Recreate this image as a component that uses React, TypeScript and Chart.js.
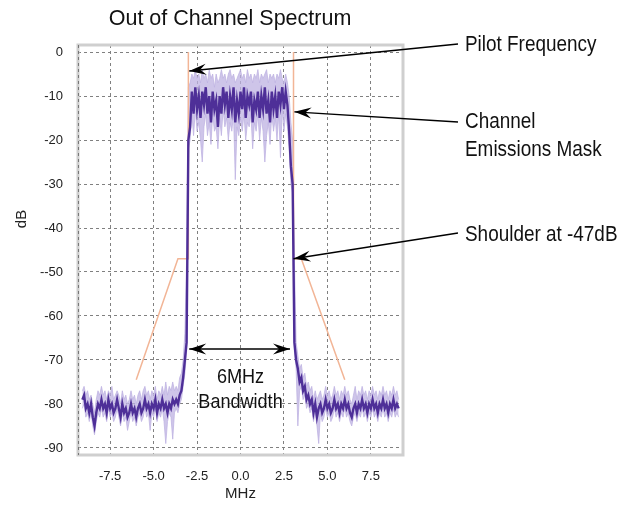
import React, { useEffect, useRef } from "react";
import { Chart, registerables } from "chart.js";

Chart.register(...registerables);

// Frequency sampling grid (MHz): start and step
const FREQ_START = -9.1;
const FREQ_STEP = 0.1;

// Dark (core) spectrum trace, dB
const traceMain = [
  -79, -78, -81, -80, -82, -80, -83, -85, -82, -80,
  -81, -79, -81, -80, -82, -79, -81, -80, -82, -81,
  -79, -81, -83, -80, -82, -81, -83, -82, -80, -82,
  -81, -83, -81, -80, -82, -81, -79, -81, -80, -82,
  -80, -81, -79, -82, -80, -81, -79, -81, -80, -82,
  -80, -81, -79, -80, -79, -80, -78, -77, -74, -70,
  -66,
  -20, -17, -9, -14, -8, -13, -10, -15, -9, -12,
  -8, -14, -10, -16, -9, -13, -11, -17, -10, -14,
  -8, -12, -9, -15, -10, -13, -8, -16, -11, -14,
  -9, -13, -8, -15, -10, -12, -9, -16, -11, -13,
  -9, -15, -10, -13, -8, -14, -11, -16, -9, -13,
  -10, -15, -9, -12, -8, -13, -9, -12, -18, -26,
  -30, -66, -70, -72, -75, -74, -77, -76, -79, -78,
  -80, -79, -82, -80, -83, -81, -80, -82, -81, -79,
  -81, -80, -82, -81, -79, -81, -80, -82, -80, -81,
  -79, -81, -80, -82, -83, -81, -80, -82, -80, -81,
  -79, -81, -80, -82, -80, -81, -79, -81, -80, -82,
  -80, -81, -79, -81, -80, -82, -80, -81, -79, -81,
  -80, -81,
];

// Light envelope: upper edge of the spectrum spread, dB
const traceHi = [
  -77, -76, -78, -77, -79, -78, -80, -82, -79, -77,
  -78, -76, -78, -77, -79, -77, -78, -76, -79, -78,
  -77, -78, -80, -77, -79, -78, -80, -79, -77, -79,
  -78, -80, -78, -77, -79, -77, -76, -78, -77, -79,
  -77, -78, -76, -79, -77, -78, -76, -78, -75, -78,
  -76, -77, -75, -77, -76, -77, -74, -73, -70, -64,
  -47,
  -8, -7, -5, -6, -4, -6, -5, -7, -4, -6,
  -5, -7, -4, -6, -5, -8, -5, -7, -6, -4,
  -6, -5, -7, -5, -4, -6, -5, -7, -6, -5,
  -4, -6, -5, -7, -4, -6, -5, -7, -5, -6,
  -4, -7, -5, -6, -5, -4, -7, -5, -6, -5,
  -7, -5, -6, -4, -6, -7, -5, -7, -10, -16,
  -20, -47, -66, -69, -72, -71, -74, -73, -76, -75,
  -77, -76, -79, -77, -79, -78, -77, -79, -78, -76,
  -78, -77, -79, -78, -76, -78, -77, -79, -77, -78,
  -76, -78, -77, -79, -80, -78, -76, -79, -77, -78,
  -76, -78, -77, -79, -77, -78, -76, -78, -77, -79,
  -77, -78, -76, -78, -77, -79, -77, -78, -76, -78,
  -77, -79,
];

// Light envelope: lower edge of the spectrum spread, dB
const traceLo = [
  -81, -80, -83, -82, -84, -82, -85, -87, -84, -82,
  -83, -81, -83, -82, -84, -81, -83, -82, -84, -83,
  -81, -83, -85, -82, -84, -83, -86, -84, -82, -84,
  -83, -85, -83, -82, -84, -83, -81, -83, -82, -86,
  -82, -83, -81, -84, -82, -83, -81, -84, -89, -84,
  -82, -83, -88, -82, -81, -82, -80, -79, -76, -73,
  -68,
  -22, -20, -14, -19, -13, -18, -16, -20, -25, -17,
  -14, -19, -16, -21, -14, -18, -17, -22, -15, -19,
  -13, -17, -15, -20, -16, -18, -14, -29, -17, -19,
  -15, -18, -14, -20, -16, -17, -14, -22, -16, -18,
  -14, -20, -15, -18, -25, -19, -16, -21, -14, -18,
  -15, -20, -14, -24, -13, -18, -14, -17, -22, -30,
  -32, -68, -72, -85, -77, -76, -79, -78, -81, -80,
  -82, -81, -84, -82, -85, -89, -82, -84, -83, -81,
  -83, -82, -84, -83, -81, -83, -82, -84, -82, -83,
  -81, -83, -82, -84, -85, -83, -82, -84, -82, -83,
  -81, -83, -82, -84, -82, -83, -81, -83, -82, -84,
  -82, -83, -81, -83, -82, -84, -82, -83, -81, -83,
  -82, -83,
];

// Channel emissions mask (MHz, dB)
const maskLeftX = [-6.0, -3.6, -3.0, -3.0];
const maskLeftY = [-74.5, -47, -47, 0];
const maskRightX = [3.05, 3.05, 3.5, 6.0];
const maskRightY = [0, -47, -47, -74.5];

// Axis ticks
const xTicks = [-7.5, -5.0, -2.5, 0.0, 2.5, 5.0, 7.5];
const yTicks = [0, -10, -20, -30, -40, -50, -60, -70, -80, -90];
const yTickLabels = ["0", "-10", "-20", "-30", "-40", "--50", "-60", "-70", "-80", "-90"];

const TITLE = "Out of Channel Spectrum";
const X_TITLE = "MHz";
const Y_TITLE = "dB";

const DARK = "#4e2f98";
const LIGHT = "rgba(190,178,226,0.75)";
const MASK = "#f2b596";
const SANS = "'Liberation Sans', Arial, sans-serif";

function drawArrowHead(ctx: CanvasRenderingContext2D, fx: number, fy: number, tx: number, ty: number) {
  const ang = Math.atan2(ty - fy, tx - fx);
  const len = 17;
  const half = 5.5;
  const notch = 11;
  ctx.save();
  ctx.translate(tx, ty);
  ctx.rotate(ang);
  ctx.beginPath();
  ctx.moveTo(0, 0);
  ctx.lineTo(-len, -half);
  ctx.lineTo(-notch, 0);
  ctx.lineTo(-len, half);
  ctx.closePath();
  ctx.fill();
  ctx.restore();
}

function arrow(ctx: CanvasRenderingContext2D, fx: number, fy: number, tx: number, ty: number, both = false) {
  ctx.beginPath();
  ctx.moveTo(fx, fy);
  ctx.lineTo(tx, ty);
  ctx.stroke();
  drawArrowHead(ctx, fx, fy, tx, ty);
  if (both) drawArrowHead(ctx, tx, ty, fx, fy);
}

// condensed text: draw with horizontal squeeze
function narrowText(ctx: CanvasRenderingContext2D, text: string, x: number, y: number, align: "left" | "center") {
  const sx = 0.86;
  ctx.save();
  ctx.translate(x, y);
  ctx.scale(sx, 1);
  ctx.textAlign = align;
  ctx.fillText(text, 0, 0);
  ctx.restore();
}

const annotationPlugin = {
  id: "annotations",
  afterDraw(chart: any) {
    const { ctx, chartArea, scales } = chart;
    const xs = scales.x;
    const ys = scales.y;
    ctx.save();
    // frame
    ctx.strokeStyle = "#cfcfcf";
    ctx.lineWidth = 3;
    ctx.strokeRect(chartArea.left, chartArea.top, chartArea.right - chartArea.left, chartArea.bottom - chartArea.top);
    ctx.strokeStyle = "#777";
    ctx.lineWidth = 1;
    ctx.setLineDash([3, 3]);
    ctx.beginPath();
    ctx.moveTo(chartArea.left + 0.5, chartArea.top);
    ctx.lineTo(chartArea.left + 0.5, chartArea.bottom);
    ctx.stroke();
    ctx.setLineDash([]);

    // title
    ctx.fillStyle = "#111";
    ctx.font = `21.5px ${SANS}`;
    ctx.textAlign = "center";
    ctx.textBaseline = "middle";
    ctx.fillText(TITLE, 230, 19);

    // y axis title
    ctx.font = `15px ${SANS}`;
    ctx.fillStyle = "#222";
    ctx.save();
    ctx.translate(22, 219);
    ctx.rotate(-Math.PI / 2);
    ctx.textAlign = "center";
    ctx.fillText(Y_TITLE, 0, 0);
    ctx.restore();

    // arrows
    ctx.strokeStyle = "#000";
    ctx.fillStyle = "#000";
    ctx.lineWidth = 1.4;
    arrow(ctx, 458, 44, xs.getPixelForValue(-2.95), ys.getPixelForValue(-4.3));
    arrow(ctx, 458, 122, xs.getPixelForValue(3.1), ys.getPixelForValue(-13.6));
    arrow(ctx, 458, 233, xs.getPixelForValue(3.05), ys.getPixelForValue(-47));
    arrow(ctx, xs.getPixelForValue(-2.95), ys.getPixelForValue(-67.5), xs.getPixelForValue(2.85), ys.getPixelForValue(-67.5), true);

    // labels
    ctx.fillStyle = "#111";
    ctx.font = `22px ${SANS}`;
    narrowText(ctx, "Pilot Frequency", 465, 45, "left");
    narrowText(ctx, "Channel", 465, 122, "left");
    narrowText(ctx, "Emissions Mask", 465, 150, "left");
    narrowText(ctx, "Shoulder at -47dB", 465, 235, "left");
    ctx.font = `21px ${SANS}`;
    narrowText(ctx, "6MHz", xs.getPixelForValue(0), 377, "center");
    narrowText(ctx, "Bandwidth", xs.getPixelForValue(0), 402, "center");
    ctx.restore();
  },
};

export default function App() {
  const ref = useRef<HTMLCanvasElement | null>(null);

  useEffect(() => {
    document.body.style.margin = "0";
    const freqs = traceMain.map((_, i) => Math.round((FREQ_START + i * FREQ_STEP) * 100) / 100);
    const pts = (arr: number[]) => arr.map((y, i) => ({ x: freqs[i], y }));
    const maskData: any[] = [
      ...maskLeftX.map((x, i) => ({ x, y: maskLeftY[i] })),
      { x: 0, y: null },
      ...maskRightX.map((x, i) => ({ x, y: maskRightY[i] })),
    ];

    const chart = new Chart(ref.current as HTMLCanvasElement, {
      type: "line",
      data: {
        datasets: [
          {
            label: "envHi",
            data: pts(traceHi),
            borderColor: LIGHT,
            backgroundColor: LIGHT,
            borderWidth: 1,
            pointRadius: 0,
            fill: "+1",
            order: 3,
          },
          {
            label: "envLo",
            data: pts(traceLo),
            borderColor: LIGHT,
            borderWidth: 1,
            pointRadius: 0,
            fill: false,
            order: 3,
          },
          {
            label: "mask",
            data: maskData,
            borderColor: MASK,
            borderWidth: 1.5,
            pointRadius: 0,
            fill: false,
            spanGaps: false,
            order: 2,
          },
          {
            label: "spectrum",
            data: pts(traceMain),
            borderColor: DARK,
            borderWidth: 2.4,
            pointRadius: 0,
            fill: false,
            order: 1,
          },
        ],
      },
      options: {
        animation: false,
        responsive: false,
        events: [],
        layout: { padding: { top: 45, right: 232, left: 0, bottom: 0 } },
        plugins: {
          legend: { display: false },
          tooltip: { enabled: false },
          title: { display: false },
        },
        elements: { line: { tension: 0 } },
        scales: {
          x: {
            type: "linear",
            min: -9.35,
            max: 9.35,
            afterBuildTicks: (s: any) => {
              s.ticks = xTicks.map((v) => ({ value: v }));
            },
            afterFit: (s: any) => {
              s.height = 51;
            },
            ticks: {
              callback: (v: any) => Number(v).toFixed(1),
              color: "#222",
              font: { family: SANS, size: 13 },
              padding: 14,
              maxRotation: 0,
              autoSkip: false,
            },
            grid: { color: "#808080", lineWidth: 1, drawTicks: false },
            border: { display: false, dash: [3, 3] },
            title: {
              display: true,
              text: X_TITLE,
              color: "#222",
              font: { family: SANS, size: 15 },
              padding: { top: 0, bottom: 3 },
            },
          },
          y: {
            type: "linear",
            min: -91.6,
            max: 1.6,
            afterBuildTicks: (s: any) => {
              s.ticks = yTicks.map((v) => ({ value: v }));
            },
            afterFit: (s: any) => {
              s.width = 78;
            },
            ticks: {
              callback: (v: any) => {
                const i = yTicks.indexOf(Number(v));
                return i >= 0 ? yTickLabels[i] : "";
              },
              color: "#222",
              font: { family: SANS, size: 13 },
              padding: 15,
              autoSkip: false,
            },
            grid: { color: "#808080", lineWidth: 1, drawTicks: false },
            border: { display: false, dash: [3, 3] },
            title: { display: false, text: Y_TITLE },
          },
        },
      },
      plugins: [annotationPlugin],
    } as any);

    return () => chart.destroy();
  }, []);

  return <canvas ref={ref} width={635} height={506} style={{ display: "block" }} />;
}
